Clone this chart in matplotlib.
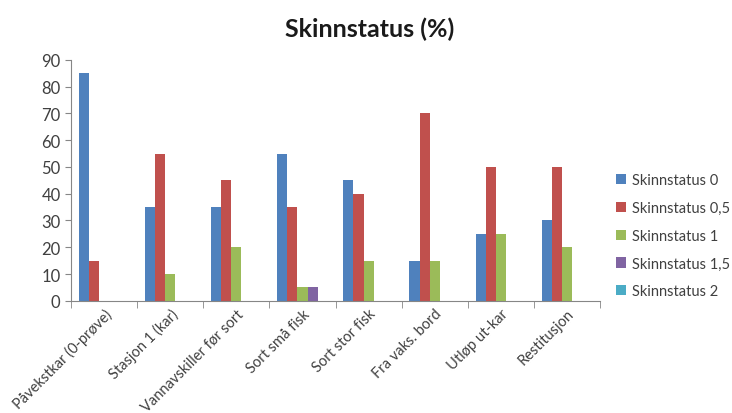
import matplotlib
matplotlib.use("Agg")
import matplotlib.pyplot as plt
import numpy as np

categories = ["Påvekstkar (0-prøve)", "Stasjon 1 (kar)", "Vannavskiller før sort",
              "Sort små fisk", "Sort stor fisk", "Fra vaks. bord", "Utløp ut-kar", "Restitusjon"]
series_names = ["Skinnstatus 0", "Skinnstatus 0,5", "Skinnstatus 1", "Skinnstatus 1,5", "Skinnstatus 2"]
s0 = [85, 35, 35, 55, 45, 15, 25, 30]
s05 = [15, 55, 45, 35, 40, 70, 50, 50]
s1 = [0, 10, 20, 5, 15, 15, 25, 20]
s15 = [0, 0, 0, 5, 0, 0, 0, 0]
s2 = [0, 0, 0, 0, 0, 0, 0, 0]
colors = ["#4F81BD", "#C0504D", "#9BBB59", "#8064A2", "#4BACC6"]

plt.rcParams['font.family'] = ['Lato', 'DejaVu Sans']

fig = plt.figure(figsize=(7.32, 4.14), dpi=100)
ax = fig.add_axes([0.097, 0.271, 0.723, 0.582])

x = np.arange(len(categories))
w = 1 / 6.5
for i, (vals, name, c) in enumerate(zip([s0, s05, s1, s15, s2], series_names, colors)):
    ax.bar(x + (i - 2) * w, vals, width=w, color=c, label=name, linewidth=0)

ax.set_xlim(-0.5, len(categories) - 0.5)
ax.set_ylim(0, 90)
ax.set_yticks(range(0, 91, 10))
ax.tick_params(axis='y', labelsize=12, colors='#404040', length=4, color='#868686')
ax.set_xticks(x)
ax.set_xticklabels(categories, rotation=45, ha='right', rotation_mode='anchor', fontsize=10.5, color='#404040')
ax.tick_params(axis='x', length=0, pad=4)
ax.set_xticks(np.arange(-0.5, len(categories)), minor=True)
ax.tick_params(axis='x', which='minor', length=5, color='#868686')
for s in ['top', 'right']:
    ax.spines[s].set_visible(False)
for s in ['left', 'bottom']:
    ax.spines[s].set_color('#868686')

fig.text(0.505, 0.93, "Skinnstatus (%)", ha='center', va='center', fontsize=18, fontweight='bold', color='#1a1a1a')

leg = ax.legend(loc='center left', bbox_to_anchor=(1.005, 0.27), frameon=False, fontsize=10.5,
                handlelength=0.7, handleheight=0.7, handletextpad=0.4, labelspacing=0.95)
for t in leg.get_texts():
    t.set_color('#404040')

fig.savefig("out.png", dpi=100)
